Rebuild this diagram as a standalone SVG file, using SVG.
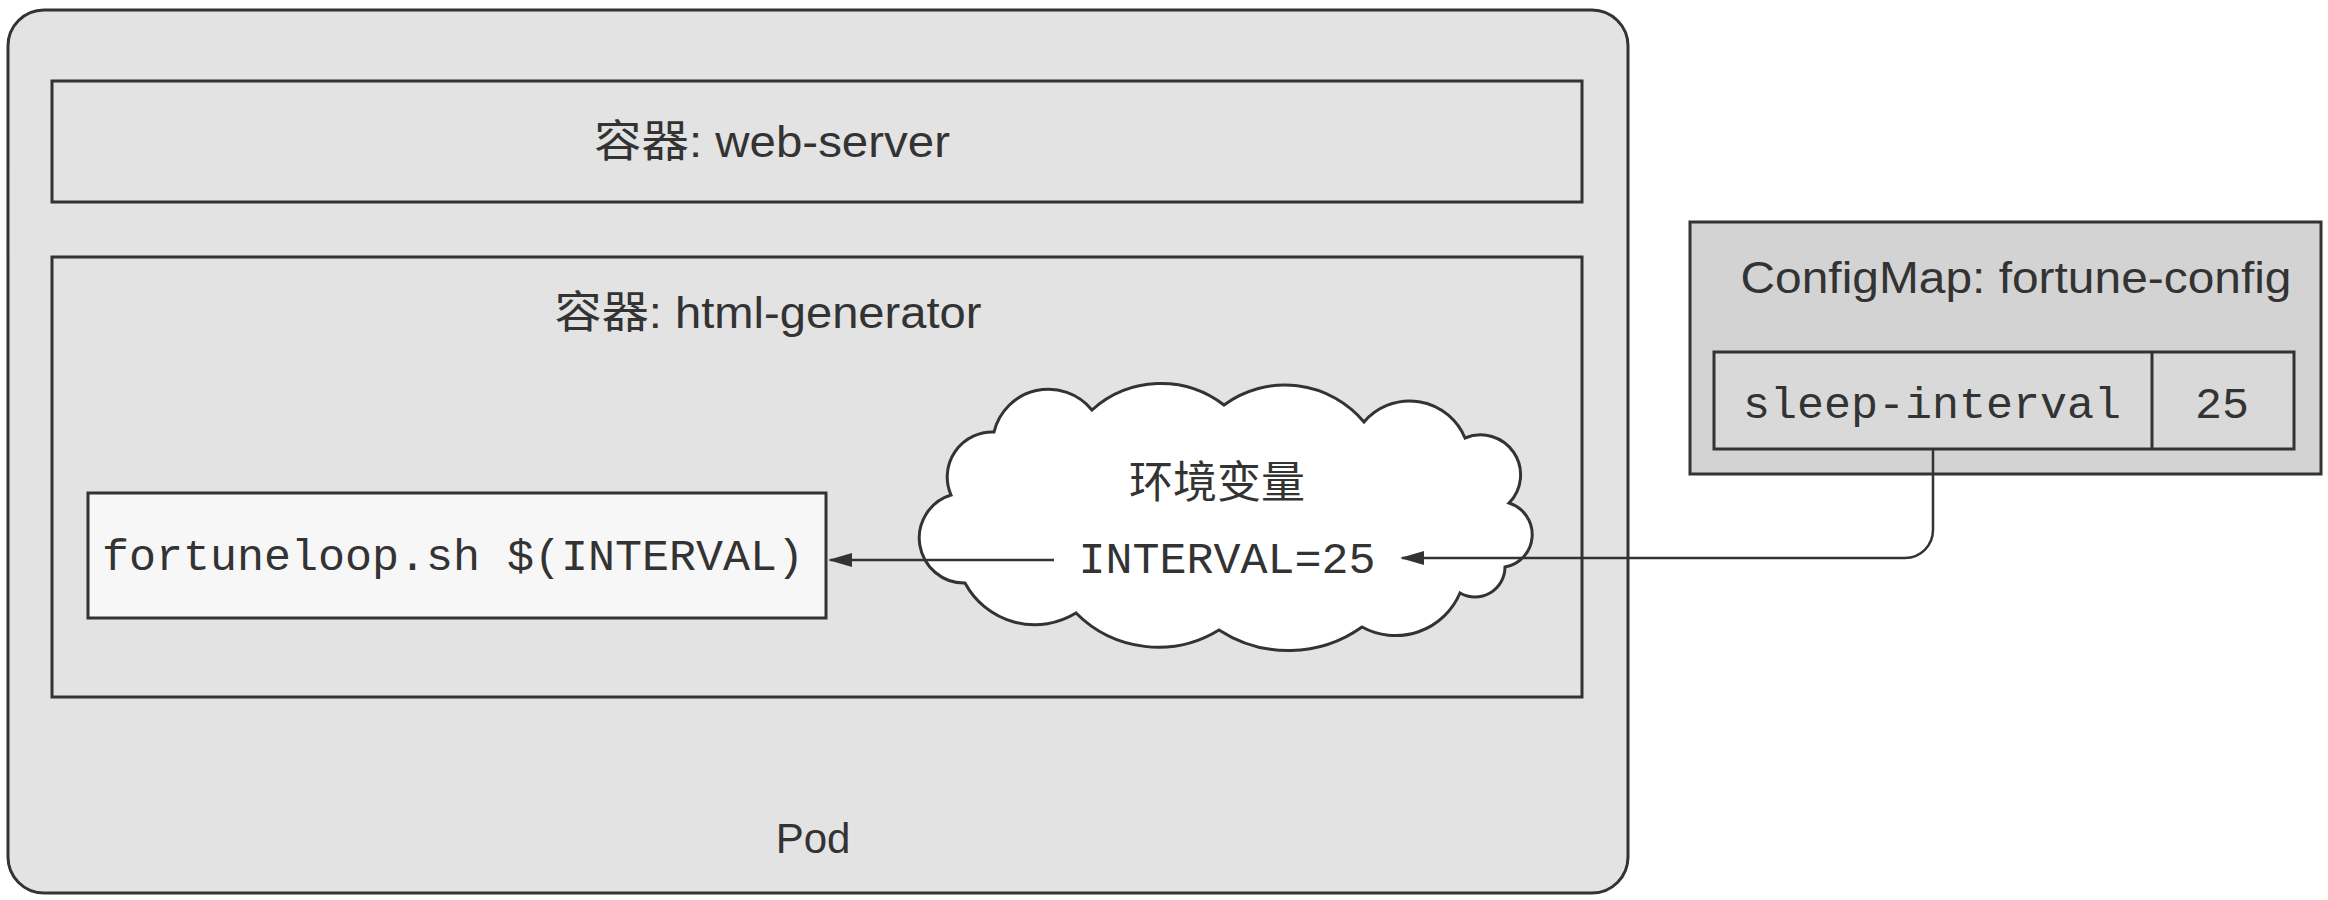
<svg xmlns="http://www.w3.org/2000/svg" width="2328" height="900" viewBox="0 0 2328 900">
  <defs>
    <style>
      .box { stroke: #333; stroke-width: 3; }
      .gray { fill: #e3e3e3; }
      .dark { fill: #d3d3d3; }
      .sans { font-family: "Liberation Sans", "Noto Sans CJK SC", sans-serif; fill: #333; }
      .cjk { font-family: "Noto Sans CJK SC", sans-serif; fill: #333; }
      .mono { font-family: "Liberation Mono", monospace; font-size: 45px; fill: #333; }
      .conn { fill: none; stroke: #333; stroke-width: 2.5; marker-end: url(#arrow); }
    </style>
    <marker id="arrow" viewBox="0 0 24 14" refX="22" refY="7" markerWidth="24" markerHeight="14" markerUnits="userSpaceOnUse" orient="auto">
      <path d="M0,0 L24,7 L0,14 Z" fill="#333"/>
    </marker>
  </defs>
  <rect x="0" y="0" width="2328" height="900" fill="#ffffff"/>

  <g id="pod">
    <rect class="box gray" x="8" y="10" width="1620" height="883" rx="36" ry="36"/>
    <text class="sans" x="813" y="853" font-size="42" text-anchor="middle">Pod</text>
  </g>

  <g id="web-server">
    <rect class="box gray" x="52" y="81" width="1530" height="121"/>
    <text class="sans" x="772" y="157" font-size="44" text-anchor="middle" textLength="356" lengthAdjust="spacingAndGlyphs">容器: web-server</text>
  </g>

  <g id="html-generator">
    <rect class="box gray" x="52" y="257" width="1530" height="440"/>
    <text class="sans" x="768" y="328" font-size="44" text-anchor="middle" textLength="427" lengthAdjust="spacingAndGlyphs">容器: html-generator</text>
  </g>

  <g id="fortuneloop">
    <rect class="box" fill="#f7f7f7" x="88" y="493" width="738" height="125"/>
    <text class="mono" x="102" y="570">fortuneloop.sh $(INTERVAL)</text>
  </g>

  <g id="env-cloud">
    <path class="box" fill="#ffffff" d="M951,495 A45,45 0 0 1 994,432 A56,56 0 0 1 1092,410 A103,103 0 0 1 1224,405 A103,103 0 0 1 1364,422 A60,60 0 0 1 1465,438 A40,40 0 0 1 1509,503 A33,33 0 0 1 1505,567 A30,30 0 0 1 1460,593 A70,70 0 0 1 1362,627 A127,127 0 0 1 1219,630 A116,116 0 0 1 1076,613 A79,79 0 0 1 965,583 A45,45 0 0 1 951,495 Z"/>
    <text class="cjk" x="1217" y="498" font-size="44" text-anchor="middle">环境变量</text>
    <text class="mono" x="1227" y="573" text-anchor="middle">INTERVAL=25</text>
  </g>

  <g id="configmap">
    <rect class="box dark" x="1690" y="222" width="631" height="252"/>
    <text class="sans" x="2016" y="293" font-size="44" text-anchor="middle" textLength="551" lengthAdjust="spacingAndGlyphs">ConfigMap: fortune-config</text>
    <rect class="box" fill="#d9d9d9" x="1714" y="352" width="580" height="97"/>
    <line class="box" x1="2152" y1="352" x2="2152" y2="449"/>
    <text class="mono" x="1932" y="418" text-anchor="middle">sleep-interval</text>
    <text class="mono" x="2222" y="418" text-anchor="middle">25</text>
  </g>

  <g id="connectors">
    <path class="conn" d="M1933,449 V530 A28,28 0 0 1 1905,558 H1402"/>
    <path class="conn" d="M1054,560 H830"/>
  </g>
</svg>
